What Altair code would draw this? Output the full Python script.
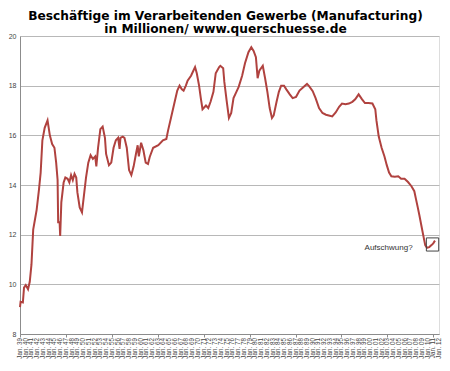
import altair as alt
import pandas as pd

# --- data (decimal year, employees in millions) ---
years = [
    1939.0, 1939.1, 1939.5, 1939.7, 1940.0, 1940.4, 1940.7, 1941.0, 1941.3, 1941.6,
    1941.9, 1942.3, 1942.6, 1942.9, 1943.3, 1943.8, 1944.2, 1944.6, 1945.0, 1945.3,
    1945.55, 1945.65, 1945.9, 1946.0, 1946.2, 1946.6, 1946.9, 1947.3, 1947.6, 1947.9,
    1948.2, 1948.5, 1948.8, 1949.0, 1949.4, 1949.8, 1950.0, 1950.5, 1950.9, 1951.3,
    1951.7, 1952.1, 1952.3, 1952.6, 1953.0, 1953.4, 1953.8, 1954.0, 1954.5, 1954.9,
    1955.3, 1955.7, 1956.1, 1956.35, 1956.5, 1956.9, 1957.2, 1957.6, 1958.0, 1958.4,
    1958.8, 1959.2, 1959.5, 1959.7, 1960.1, 1960.5, 1960.9, 1961.3, 1961.6, 1962.2,
    1963.1, 1963.9, 1964.5, 1964.8, 1965.3, 1965.9, 1966.4, 1966.8, 1967.2, 1967.5,
    1967.9, 1968.2, 1968.8, 1969.2, 1969.5, 1969.8, 1970.2, 1970.5, 1970.8, 1971.4,
    1971.8, 1972.2, 1972.7, 1973.1, 1973.7, 1973.9, 1974.4, 1974.6, 1975.0, 1975.4,
    1975.8, 1976.2, 1976.7, 1977.1, 1977.7, 1978.2, 1978.8, 1979.3, 1979.7, 1980.1,
    1980.4, 1980.7, 1981.3, 1981.7, 1982.1, 1982.5, 1982.9, 1983.2, 1983.7, 1984.1,
    1984.5, 1985.0, 1985.4, 1986.0, 1986.5, 1987.1, 1987.7, 1988.3, 1989.0, 1989.4,
    1990.0, 1990.5, 1991.1, 1991.7, 1992.3, 1992.8, 1993.4, 1994.0, 1994.6, 1995.1,
    1995.7, 1996.3, 1996.9, 1997.4, 1998.0, 1998.3, 1998.6, 1999.1, 1999.7, 2000.4,
    2000.9, 2001.1, 2001.5, 2002.0, 2002.5, 2002.9, 2003.3, 2003.7, 2004.3, 2004.9,
    2005.4, 2006.0, 2006.6, 2007.2, 2007.7, 2008.0, 2008.3, 2008.6, 2008.9, 2009.2,
    2009.6, 2009.9, 2010.3, 2010.7, 2011.0, 2011.3,
]
values = [
    9.08, 9.30, 9.27, 9.87, 9.97, 9.80, 10.10, 10.80, 12.20, 12.60,
    13.00, 13.80, 14.50, 15.80, 16.30, 16.60, 16.00, 15.65, 15.50, 14.90,
    14.20, 12.50, 12.50, 11.95, 13.30, 14.10, 14.30, 14.25, 14.10, 14.40,
    14.20, 14.45, 14.30, 13.70, 13.10, 12.90, 13.30, 14.30, 14.90, 15.20,
    15.05, 15.15, 14.75, 15.50, 16.25, 16.35, 15.90, 15.25, 14.80, 14.90,
    15.50, 15.80, 15.90, 15.45, 15.90, 15.95, 15.90, 15.50, 14.60, 14.40,
    14.75, 15.25, 15.60, 15.15, 15.70, 15.40, 14.90, 14.85, 15.13, 15.50,
    15.60, 15.80, 15.85, 16.20, 16.70, 17.30, 17.80, 18.00, 17.85, 17.80,
    18.00, 18.20, 18.40, 18.60, 18.75, 18.50, 18.00, 17.50, 17.05, 17.20,
    17.10, 17.35, 17.75, 18.50, 18.75, 18.80, 18.70, 18.15, 17.40, 16.70,
    16.90, 17.50, 17.75, 17.95, 18.40, 18.90, 19.35, 19.55, 19.40, 19.15,
    18.30, 18.60, 18.80, 18.30, 17.75, 17.10, 16.70, 16.80, 17.35, 17.75,
    18.00, 18.00, 17.85, 17.65, 17.50, 17.55, 17.80, 17.93, 18.07, 17.97,
    17.78, 17.50, 17.10, 16.90, 16.83, 16.80, 16.76, 16.92, 17.15, 17.28,
    17.25, 17.28, 17.35, 17.45, 17.65, 17.55, 17.45, 17.30, 17.30, 17.28,
    17.05, 16.60, 15.95, 15.50, 15.15, 14.80, 14.50, 14.35, 14.33, 14.35,
    14.25, 14.25, 14.12, 13.95, 13.75, 13.42, 13.10, 12.76, 12.40, 12.04,
    11.58, 11.47, 11.50, 11.58, 11.65, 11.76,
]

tick_years = list(range(1939, 2013))
y_ticks = [8, 10, 12, 14, 16, 18, 20]

title_lines = ["Beschäftige im Verarbeitenden  Gewerbe (Manufacturing)",
               "in Millionen/  www.querschuesse.de"]

note_text = ["Aufschwung?"]
note_x = [2007.4]
note_y = [11.45]
box_x = [2009.8]
box_x2 = [2011.95]
box_y = [11.34]
box_y2 = [11.87]

df = pd.DataFrame({"year": years, "value": values})
note_df = pd.DataFrame({"label": note_text, "x": note_x, "y": note_y})
box_df = pd.DataFrame({"x": box_x, "x2": box_x2, "y": box_y, "y2": box_y2})
tick_df = pd.DataFrame({"year": tick_years})

FONT = "Liberation Sans"
W, H = 419, 298

x_scale = alt.Scale(domain=[1939, 2012], nice=False, zero=False)
y_scale = alt.Scale(domain=[8, 20], nice=False, zero=False)

line = alt.Chart(df).mark_line(color="#b0423f", strokeWidth=2, interpolate="linear").encode(
    x=alt.X("year:Q", scale=x_scale,
            axis=alt.Axis(values=tick_years, title=None, labels=False,
                          tickSize=3, tickColor="#8c8c8c",
                          domainColor="#8c8c8c", grid=False)),
    y=alt.Y("value:Q", scale=y_scale,
            axis=alt.Axis(values=y_ticks, title=None, labelFontSize=7, labelFont=FONT,
                          labelColor="#444444", ticks=False, tickSize=0, labelPadding=4,
                          domainColor="#8c8c8c", grid=True, gridColor="#b8b8b8",
                          gridWidth=1)),
)

# x tick labels ("Jan. 39" ... "Jan. 12"), one per year, rotated
xlabels = alt.Chart(tick_df).transform_calculate(
    label="'Jan. ' + substring(format(datum.year, 'd'), 2, 4)"
).mark_text(angle=270, align="right", baseline="middle", fontSize=6.3, font=FONT,
            color="#444444").encode(
    x=alt.X("year:Q", scale=x_scale),
    y=alt.value(H + 4),
    text="label:N",
)

note = alt.Chart(note_df).mark_text(align="right", baseline="middle", fontSize=8,
                                    font=FONT, color="#333333").encode(
    x=alt.X("x:Q", scale=x_scale), y=alt.Y("y:Q", scale=y_scale), text="label:N")

box = alt.Chart(box_df).mark_rect(fill=None, fillOpacity=0, stroke="#444444", strokeWidth=1).encode(
    x=alt.X("x:Q", scale=x_scale), x2="x2:Q",
    y=alt.Y("y:Q", scale=y_scale), y2="y2:Q")

chart = alt.layer(line, xlabels, note, box).properties(
    width=W, height=H,
    autosize=alt.AutoSizeParams(type="none"),
    padding={"left": 12, "top": 28, "right": 3, "bottom": 25},
    title=alt.TitleParams(text=title_lines, anchor="middle", fontSize=12.2,
                          font="DejaVu Sans", fontWeight="bold", color="#000000",
                          lineHeight=13.5, baseline="bottom", offset=2, dx=-4, dy=18.5),
).configure_view(stroke=None).configure(background="white")

chart.save("out.html", embed_options={"renderer": "svg", "actions": False})
